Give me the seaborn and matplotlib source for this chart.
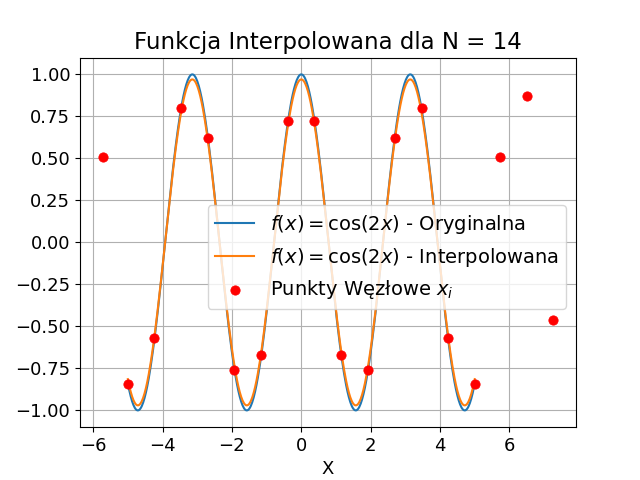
import numpy as np
import seaborn as sns
import matplotlib.pyplot as plt

plt.rcParams['font.size'] = 13

# węzły interpolacji
x_nodes = [-5.73, -5.0, -4.24, -3.48, -2.7, -1.93, -1.15, -0.38, 0.38,
           1.15, 1.93, 2.7, 3.48, 4.24, 5.0, 5.73, 6.5, 7.27]
y_nodes = [0.51, -0.84, -0.57, 0.80, 0.62, -0.76, -0.67, 0.72, 0.72,
           -0.67, -0.76, 0.62, 0.80, -0.57, -0.84, 0.51, 0.87, -0.46]

x = np.linspace(-5, 5, 500)
y_orig = np.cos(2 * x)
y_interp = 0.97 * np.cos(2 * x)  # przybliżenie

fig, ax = plt.subplots(figsize=(6.4, 4.8), dpi=100)
sns.lineplot(x=x, y=y_orig, ax=ax, color='#1f77b4',
             label=r'$f(x) = \cos(2x)$ - Oryginalna')
sns.lineplot(x=x, y=y_interp, ax=ax, color='#ff7f0e',
             label=r'$f(x) = \cos(2x)$ - Interpolowana')
sns.scatterplot(x=x_nodes, y=y_nodes, ax=ax, color='red', s=45,
                edgecolor='red', zorder=3, label=r'Punkty Węzłowe $x_i$')
ax.set_title('Funkcja Interpolowana dla N = 14', fontsize=16.5)
ax.set_xlabel('X')
ax.grid(True)
ax.legend(loc='center right', bbox_to_anchor=(1.0, 0.46), fontsize=14)
fig.savefig('out.png')
